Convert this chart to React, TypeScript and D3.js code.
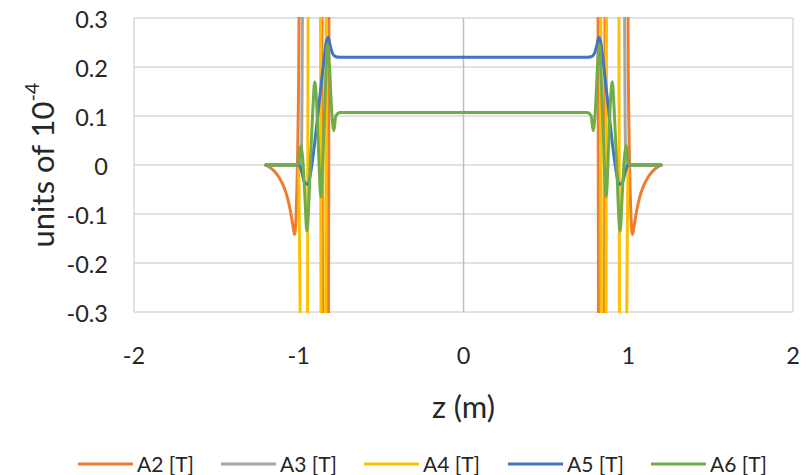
import React from "react";
import * as d3 from "d3";

// ---- data (z in m, value in units of 1e-4) ----
const seriesNames = ["A2 [T]", "A3 [T]", "A4 [T]", "A5 [T]", "A6 [T]"];
const seriesColors = ["#ED7D31", "#A5A5A5", "#FFC000", "#4472C4", "#70AD47"];

const A2: [number, number][] = [
  [-1.2, 0], [-1.18, -0.004], [-1.15, -0.012], [-1.12, -0.025], [-1.09, -0.045], [-1.07, -0.065],
  [-1.05, -0.095], [-1.035, -0.125], [-1.025, -0.142], [-1.015, -0.09], [-1.0, 0.2], [-0.985, 1.5],
  [-0.87, 1.5], [-0.845, -1.5], [-0.826, -1.5], [-0.81, 1.5],
  [0.81, 1.5], [0.826, -1.5], [0.845, -1.5], [0.87, 1.5], [0.985, 1.5], [1.0, 0.2], [1.015, -0.09],
  [1.025, -0.142], [1.035, -0.125], [1.05, -0.095], [1.07, -0.065], [1.09, -0.045], [1.12, -0.025],
  [1.15, -0.012], [1.18, -0.004], [1.2, 0],
];

const A3: [number, number][] = [
  [-1.2, 0], [-0.985, 0], [-0.96, 1.5], [0.96, 1.5], [0.985, 0], [1.2, 0],
];

const A4: [number, number][] = [
  [-1.2, 0], [-1.0, 0], [-0.985, -0.6], [-0.968, -1.2], [-0.955, -1.2], [-0.935, 1.2],
  [-0.875, 1.2], [-0.858, -1.2], [-0.845, -1.2], [-0.825, 1.2],
  [0.825, 1.2], [0.845, -1.2], [0.858, -1.2], [0.875, 1.2], [0.935, 1.2], [0.955, -1.2],
  [0.968, -1.2], [0.985, -0.6], [1.0, 0], [1.2, 0],
];

const A5: [number, number][] = [
  [-1.2, 0], [-1.0, 0], [-0.985, -0.01], [-0.965, -0.035], [-0.945, -0.04], [-0.925, -0.01],
  [-0.905, 0.04], [-0.885, 0.1], [-0.865, 0.16], [-0.845, 0.22], [-0.83, 0.255], [-0.82, 0.26],
  [-0.81, 0.245], [-0.795, 0.228], [-0.775, 0.221], [-0.75, 0.22],
  [0.75, 0.22], [0.775, 0.221], [0.795, 0.228], [0.81, 0.245], [0.82, 0.26], [0.83, 0.255],
  [0.845, 0.22], [0.865, 0.16], [0.885, 0.1], [0.905, 0.04], [0.925, -0.01], [0.945, -0.04],
  [0.965, -0.035], [0.985, -0.01], [1.0, 0], [1.2, 0],
];

const A6: [number, number][] = [
  [-1.2, 0], [-1.01, 0], [-0.998, 0.01], [-0.988, 0.04], [-0.975, 0.01], [-0.962, -0.07],
  [-0.951, -0.135], [-0.942, -0.1], [-0.93, 0.0], [-0.915, 0.11], [-0.903, 0.17], [-0.892, 0.13],
  [-0.88, 0.03], [-0.866, -0.065], [-0.855, 0.0], [-0.84, 0.14], [-0.825, 0.245], [-0.815, 0.21],
  [-0.8, 0.11], [-0.787, 0.07], [-0.775, 0.1], [-0.75, 0.107],
  [0.75, 0.107], [0.775, 0.1], [0.787, 0.07], [0.8, 0.11], [0.815, 0.21], [0.825, 0.245],
  [0.84, 0.14], [0.855, 0.0], [0.866, -0.065], [0.88, 0.03], [0.892, 0.13], [0.903, 0.17],
  [0.915, 0.11], [0.93, 0.0], [0.942, -0.1], [0.951, -0.135], [0.962, -0.07], [0.975, 0.01],
  [0.988, 0.04], [0.998, 0.01], [1.01, 0], [1.2, 0],
];

const seriesData = [A2, A3, A4, A5, A6];
const xTicks = [-2, -1, 0, 1, 2];
const yTicks = [-0.3, -0.2, -0.1, 0, 0.1, 0.2, 0.3];

const W = 807;
const H = 475;
const FONT = "Lato, 'Open Sans', sans-serif";

export default function App() {
  const left = 134, right = 793, top = 18, bottom = 312;
  const x = d3.scaleLinear().domain([-2, 2]).range([left, right]);
  const y = d3.scaleLinear().domain([-0.3, 0.3]).range([bottom, top]);
  const line = d3
    .line<[number, number]>()
    .x((d) => x(d[0]))
    .y((d) => y(d[1]))
    .curve(d3.curveMonotoneX);

  const legendX = [78, 221, 364, 508, 651];
  const fmt = (t: number) => (Math.abs(t) < 1e-9 ? "0" : String(t));

  return (
    <svg
      width={W}
      height={H}
      style={{ position: "fixed", left: 0, top: 0, background: "#fff" }}
      fontFamily={FONT}
    >
      <defs>
        <clipPath id="plotclip">
          <rect x={left} y={top - 1} width={right - left} height={bottom - top + 2} />
        </clipPath>
      </defs>
      {yTicks.map((t) => (
        <line key={t} x1={left} x2={right} y1={y(t)} y2={y(t)} stroke="#D9D9D9" strokeWidth={1.5} />
      ))}
      <line x1={left} x2={left} y1={top} y2={bottom} stroke="#D9D9D9" strokeWidth={1.5} />
      <line x1={right} x2={right} y1={top} y2={bottom} stroke="#D9D9D9" strokeWidth={1.5} />
      <line x1={x(0)} x2={x(0)} y1={top} y2={bottom} stroke="#BFBFBF" strokeWidth={1.5} />

      <g clipPath="url(#plotclip)">
        {seriesData.map((s, i) => (
          <path
            key={i}
            d={line(s) || ""}
            fill="none"
            stroke={seriesColors[i]}
            strokeWidth={3}
            strokeLinejoin="round"
            strokeLinecap="round"
          />
        ))}
      </g>

      {yTicks.map((t) => (
        <text key={t} x={108} y={y(t) + 1} textAnchor="end" dominantBaseline="central" fontSize={23.5} fill="#262626">
          {fmt(t)}
        </text>
      ))}
      {xTicks.map((t) => (
        <text key={t} x={x(t)} y={355} textAnchor="middle" dominantBaseline="central" fontSize={23.5} fill="#262626">
          {fmt(t)}
        </text>
      ))}
      <text x={x(0)} y={406} textAnchor="middle" dominantBaseline="central" fontSize={31} fill="#262626">
        z (m)
      </text>
      <text
        transform={`translate(42, ${(top + bottom) / 2}) rotate(-90)`}
        textAnchor="middle"
        dominantBaseline="central"
        fontSize={31}
        fill="#262626"
      >
        units of 10<tspan fontSize={20} dy={-11}>-4</tspan>
      </text>

      {seriesNames.map((n, i) => (
        <g key={n}>
          <line x1={legendX[i]} x2={legendX[i] + 55} y1={464} y2={464} stroke={seriesColors[i]} strokeWidth={3} />
          <text x={legendX[i] + 59} y={463} dominantBaseline="central" fontSize={21} fill="#262626">
            {n}
          </text>
        </g>
      ))}
    </svg>
  );
}
